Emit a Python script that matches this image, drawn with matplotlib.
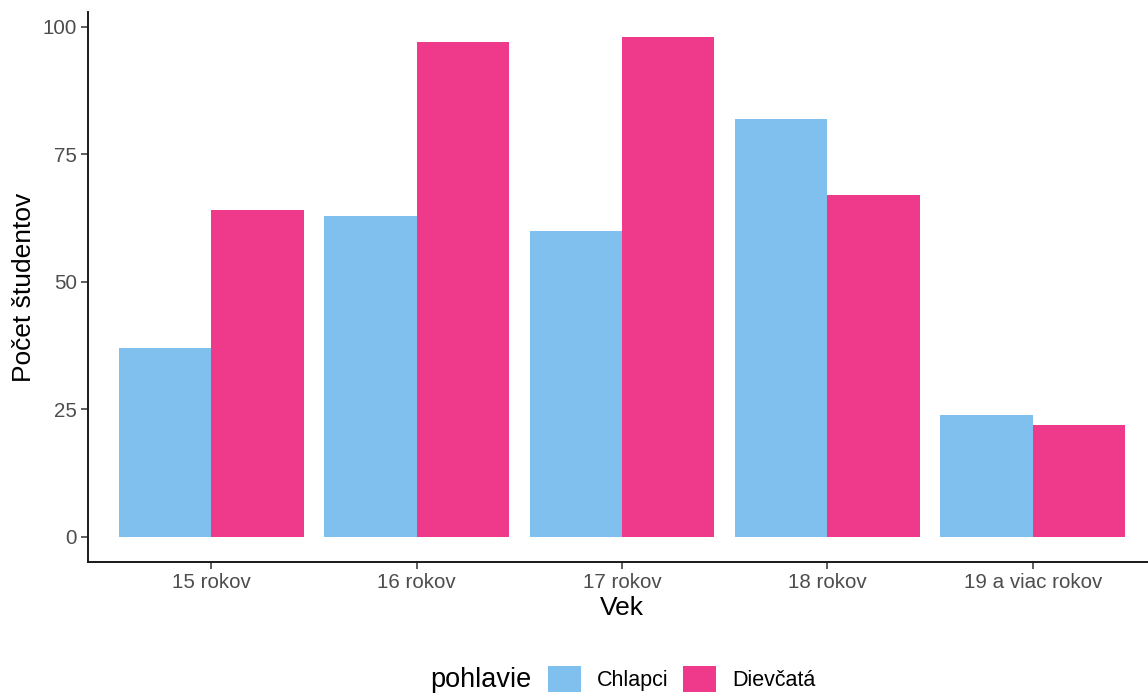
import matplotlib
matplotlib.use("Agg")
import matplotlib.pyplot as plt
import numpy as np

plt.rcParams['font.family'] = ['Liberation Sans', 'DejaVu Sans']

categories = ["15 rokov", "16 rokov", "17 rokov", "18 rokov", "19 a viac rokov"]
chlapci = [37, 63, 60, 82, 24]
dievcata = [64, 97, 98, 67, 22]
series_names = ["Chlapci", "Dievčatá"]
colors = ["#7FC0EF", "#EF3A8B"]
y_ticks = [0, 25, 50, 75, 100]

W, H = 1148, 693
fig = plt.figure(figsize=(W / 100, H / 100), dpi=100)
ax = fig.add_axes([88 / W, 131 / H, (1156 - 88) / W, 550 / H])

x = np.arange(1, len(categories) + 1)
bw = 0.45
b1 = ax.bar(x - bw / 2, chlapci, width=bw, color=colors[0], label=series_names[0])
b2 = ax.bar(x + bw / 2, dievcata, width=bw, color=colors[1], label=series_names[1])

ax.set_xlim(0.4, len(categories) + 0.6)
ax.set_ylim(-4.9, 102.9)
ax.set_xticks(x)
ax.set_xticklabels(categories)
ax.set_yticks(y_ticks)
ax.tick_params(axis='both', labelsize=14.8, colors='#333333', length=5, width=1.1,
               labelcolor='#4D4D4D', pad=3)
for side in ['top', 'right']:
    ax.spines[side].set_visible(False)
for side in ['left', 'bottom']:
    ax.spines[side].set_linewidth(1.4)
    ax.spines[side].set_color('#1a1a1a')

ax.set_xlabel("Vek", fontsize=19, labelpad=3)
ax.set_ylabel("Počet študentov", fontsize=19, labelpad=5)

fig.text(430 / W, 1 - 680 / H, "pohlavie", fontsize=19.5, va='center', ha='left')
leg = fig.legend(handles=[b1, b2], labels=series_names, loc='center left',
                 bbox_to_anchor=(539 / W, 1 - 679 / H), ncol=2, frameon=False,
                 fontsize=15.5, handlelength=1.55, handleheight=1.55,
                 handletextpad=0.75, columnspacing=0.65, borderaxespad=0)

fig.savefig("out.png", dpi=100)
